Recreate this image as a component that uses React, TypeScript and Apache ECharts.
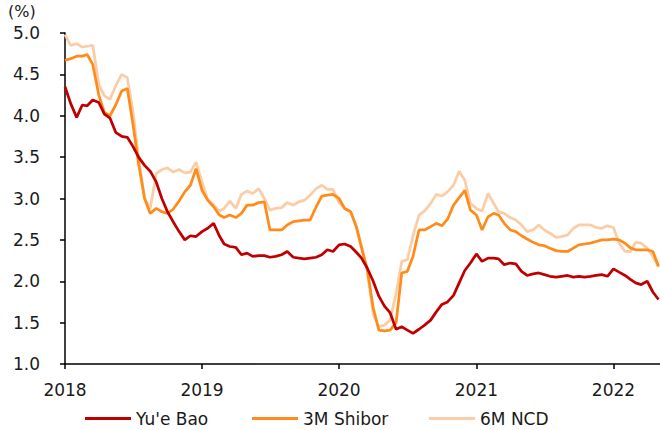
import React, { useEffect, useRef } from "react";
import * as echarts from "echarts";

const dates = [
  "2018-01-01","2018-01-16","2018-02-01","2018-02-16","2018-03-01","2018-03-16","2018-04-01","2018-04-16","2018-05-01","2018-05-16","2018-06-01","2018-06-16",
  "2018-07-01","2018-07-16","2018-08-01","2018-08-16","2018-09-01","2018-09-16","2018-10-01","2018-10-16","2018-11-01","2018-11-16","2018-12-01","2018-12-16",
  "2019-01-01","2019-01-16","2019-02-01","2019-02-16","2019-03-01","2019-03-16","2019-04-01","2019-04-16","2019-05-01","2019-05-16","2019-06-01","2019-06-16",
  "2019-07-01","2019-07-16","2019-08-01","2019-08-16","2019-09-01","2019-09-16","2019-10-01","2019-10-16","2019-11-01","2019-11-16","2019-12-01","2019-12-16",
  "2020-01-01","2020-01-16","2020-02-01","2020-02-16","2020-03-01","2020-03-16","2020-04-01","2020-04-16","2020-05-01","2020-05-16","2020-06-01","2020-06-16",
  "2020-07-01","2020-07-16","2020-08-01","2020-08-16","2020-09-01","2020-09-16","2020-10-01","2020-10-16","2020-11-01","2020-11-16","2020-12-01","2020-12-16",
  "2021-01-01","2021-01-16","2021-02-01","2021-02-16","2021-03-01","2021-03-16","2021-04-01","2021-04-16","2021-05-01","2021-05-16","2021-06-01","2021-06-16",
  "2021-07-01","2021-07-16","2021-08-01","2021-08-16","2021-09-01","2021-09-16","2021-10-01","2021-10-16","2021-11-01","2021-11-16","2021-12-01","2021-12-16",
  "2022-01-01","2022-01-16","2022-02-01","2022-02-16","2022-03-01","2022-03-16","2022-04-01","2022-04-16","2022-05-01",
];

const yueBao = [
  4.35,4.15,3.98,4.13,4.12,4.19,4.16,4.02,3.97,3.80,3.75,3.74,
  3.63,3.50,3.40,3.33,3.20,3.00,2.84,2.72,2.60,2.50,2.55,2.54,
  2.60,2.64,2.70,2.55,2.45,2.42,2.41,2.32,2.34,2.30,2.31,2.31,
  2.29,2.30,2.32,2.36,2.29,2.28,2.27,2.28,2.29,2.32,2.38,2.36,
  2.44,2.45,2.42,2.35,2.28,2.16,2.00,1.82,1.70,1.62,1.42,1.45,
  1.41,1.37,1.42,1.47,1.53,1.63,1.72,1.75,1.83,1.98,2.13,2.22,
  2.33,2.24,2.28,2.28,2.27,2.20,2.22,2.21,2.12,2.07,2.09,2.10,
  2.08,2.06,2.05,2.06,2.07,2.05,2.06,2.05,2.06,2.07,2.08,2.06,
  2.15,2.11,2.07,2.02,1.98,1.96,2.00,1.87,1.78,
];

const shibor3M = [
  4.67,4.69,4.72,4.72,4.74,4.62,4.25,4.04,4.00,4.13,4.30,4.33,
  3.90,3.42,3.00,2.82,2.88,2.84,2.82,2.87,2.97,3.08,3.16,3.36,
  3.10,2.98,2.90,2.80,2.77,2.80,2.77,2.82,2.92,2.92,2.95,2.96,
  2.62,2.62,2.62,2.68,2.72,2.73,2.74,2.74,2.90,3.03,3.04,3.05,
  3.00,2.88,2.84,2.66,2.40,2.15,1.68,1.41,1.40,1.41,1.50,2.10,
  2.12,2.30,2.62,2.62,2.66,2.70,2.67,2.75,2.92,3.01,3.10,2.86,
  2.80,2.62,2.78,2.82,2.80,2.70,2.62,2.60,2.55,2.51,2.47,2.44,
  2.43,2.40,2.37,2.36,2.36,2.40,2.44,2.45,2.46,2.48,2.50,2.50,
  2.51,2.50,2.46,2.40,2.38,2.38,2.38,2.36,2.18,
];

const ncd6M = [
  4.98,4.85,4.87,4.83,4.84,4.85,4.38,4.24,4.20,4.36,4.50,4.46,
  4.05,3.50,3.00,2.88,3.30,3.35,3.37,3.32,3.35,3.31,3.32,3.44,
  3.20,2.99,2.92,2.85,2.88,2.97,2.88,3.05,3.09,3.06,3.12,3.00,
  2.86,2.88,2.89,2.95,2.92,2.96,2.98,3.04,3.12,3.16,3.11,3.11,
  2.95,2.88,2.84,2.66,2.43,2.13,1.60,1.45,1.47,1.53,1.85,2.24,
  2.26,2.55,2.80,2.85,2.94,3.05,3.03,3.08,3.16,3.33,3.22,2.94,
  2.88,2.85,3.06,2.94,2.84,2.82,2.77,2.74,2.68,2.60,2.62,2.68,
  2.62,2.58,2.53,2.54,2.56,2.64,2.68,2.68,2.68,2.65,2.64,2.67,
  2.65,2.46,2.36,2.36,2.47,2.46,2.40,2.30,2.17,
];

const seriesNames = ["Yu'e Bao", "3M Shibor", "6M NCD"];
const seriesColors = ["#C00000", "#FF8C1A", "#FBCDA6"];
const yTickMin = 1.0;
const yTickMax = 5.0;
const yTickStep = 0.5;
const xMin = "2018-01-01";
const xMax = "2022-05-05";

const FONT = "DejaVu Sans";
const TEXT_COLOR = "#1a1a1a";

export default function App() {
  const ref = useRef<HTMLDivElement>(null);
  useEffect(() => {
    if (!ref.current) return;
    const chart = echarts.init(ref.current, null, { renderer: "svg" });
    const seriesData = [yueBao, shibor3M, ncd6M];
    const legendLefts = [80, 247, 424];
    chart.setOption({
      animation: false,
      backgroundColor: "#fff",
      grid: { left: 65, right: 0, top: 33, bottom: 66 },
      legend: seriesNames.map((n, i) => ({
        data: [n],
        left: legendLefts[i],
        top: 405,
        icon: "rect",
        itemWidth: 46,
        itemHeight: 3,
        textStyle: { fontFamily: FONT, fontSize: 17, color: TEXT_COLOR },
      })),
      graphic: [
        {
          type: "text",
          left: 8,
          top: 3,
          style: { text: "(%)", font: `16px '${FONT}'`, fill: TEXT_COLOR },
        },
      ],
      xAxis: {
        type: "time",
        min: xMin,
        max: xMax,
        minInterval: 365 * 24 * 3600 * 1000,
        maxInterval: 366 * 24 * 3600 * 1000,
        axisLine: { show: true, lineStyle: { color: "#000", width: 1.5 } },
        axisTick: { show: true, length: 5, inside: false, lineStyle: { color: "#000", width: 1.5 } },
        splitLine: { show: false },
        axisLabel: {
          showMaxLabel: false,
          margin: 17,
          fontFamily: FONT,
          fontSize: 17,
          color: TEXT_COLOR,
          formatter: (v: number) => String(new Date(v).getFullYear()),
        },
      },
      yAxis: {
        type: "value",
        min: yTickMin,
        max: yTickMax,
        interval: yTickStep,
        axisLine: { show: true, lineStyle: { color: "#000", width: 1.5 } },
        axisTick: { show: true, length: 5, lineStyle: { color: "#000", width: 1.5 } },
        splitLine: { show: false },
        axisLabel: {
          margin: 25,
          fontFamily: FONT,
          fontSize: 17,
          color: TEXT_COLOR,
          formatter: (v: number) => v.toFixed(1),
        },
      },
      series: seriesNames.map((n, i) => ({
        name: n,
        type: "line",
        data: dates.map((d, k) => [d, seriesData[i][k]]),
        showSymbol: false,
        symbol: "none",
        z: 4 - i,
        color: seriesColors[i],
        lineStyle: { color: seriesColors[i], width: 2.75 },
      })),
    });
    return () => chart.dispose();
  }, []);
  return (
    <div
      ref={ref}
      style={{ position: "absolute", left: 0, top: 0, width: 660, height: 430 }}
    />
  );
}
